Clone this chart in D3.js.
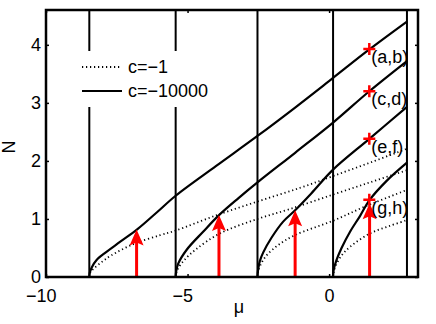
<!DOCTYPE html>
<html>
<head>
<meta charset="utf-8">
<script src="https://cdn.jsdelivr.net/npm/d3@7"></script>
<style>
  body { margin: 0; background: #fff; }
  svg { display: block; font-family: "Liberation Sans", Arial, Helvetica, sans-serif; }
</style>
</head>
<body>
<div id="chart"></div>
<script>
var width = 436,
  height = 324;

// thresholds where each branch starts (vertical lines)
const thresholds = [-8.47, -5.42, -2.53, 0.14, 2.75];

// c = -10000 branches, [mu, N]
const solid1 = [[-8.47, 0], [-8.45, 0.08], [-8.38, 0.17], [-8.22, 0.29], [-7.9, 0.42], [-7.4, 0.60], [-6.78, 0.82],
  [-6.07, 1.12], [-5.42, 1.40], [-4.0, 1.91], [-2.53, 2.43], [-1.2, 2.92], [0.14, 3.43], [1.42, 3.92], [2.75, 4.40]];
const solid2 = [[-5.42, 0], [-5.40, 0.10], [-5.33, 0.23], [-5.03, 0.47], [-4.45, 0.78], [-3.88, 1.07],
  [-3.2, 1.36], [-2.53, 1.63], [-1.2, 2.14], [0.14, 2.66], [1.42, 3.20], [2.75, 3.72]];
const solid3 = [[-2.53, 0], [-2.51, 0.12], [-2.45, 0.27], [-2.33, 0.42], [-2.03, 0.68], [-1.63, 0.95],
  [-1.20, 1.15], [-0.63, 1.44], [0.14, 1.85], [1.42, 2.38], [2.75, 2.93]];
const solid4 = [[0.14, 0], [0.16, 0.12], [0.26, 0.29], [0.44, 0.50], [0.74, 0.78], [1.09, 1.05],
  [1.42, 1.32], [2.04, 1.66], [2.75, 1.97]];

// c = -1 branches
const dot1 = [[-8.47, 0], [-8.43, 0.08], [-8.30, 0.15], [-8.0, 0.27], [-7.7, 0.37], [-6.9, 0.57], [-5.97, 0.72],
  [-5.42, 0.80], [-4.0, 1.06], [-2.53, 1.30], [-1.0, 1.54], [0.2, 1.75], [1.5, 1.98], [2.75, 2.21]];
const dot2 = [[-5.42, 0], [-5.39, 0.08], [-5.32, 0.16], [-5.12, 0.29], [-4.72, 0.47], [-3.86, 0.75],
  [-2.53, 1.0], [-1.39, 1.17], [0.14, 1.42], [1.5, 1.64], [2.75, 1.84]];
const dot3 = [[-2.53, 0], [-2.50, 0.10], [-2.43, 0.20], [-2.23, 0.36], [-1.80, 0.55], [-1.21, 0.72],
  [0.14, 0.97], [1.3, 1.22], [2.75, 1.50]];
const dot4 = [[0.14, 0], [0.17, 0.10], [0.24, 0.20], [0.44, 0.37], [0.74, 0.52], [1.44, 0.75],
  [2.14, 0.88], [2.75, 0.98]];

// red arrows (mu, N at tip)
const arrowMu = [-6.80, -3.89, -1.20, 1.43];
const arrowN = [0.82, 1.07, 1.15, 1.27];

// marked points
const markMu = [1.42, 1.42, 1.42, 1.42];
const markN = [3.93, 3.20, 2.38, 1.33];
const markLabels = ['(a,b)', '(c,d)', '(e,f)', '(g,h)'];

const legendKeys = ['c=\u22121', 'c=\u221210000'];
const xTicks = [-10, -5, 0];
const yTicks = [0, 1, 2, 3, 4];

const red = '#ff0000';

var x = d3.scaleLinear().domain([-10, 3.14]).range([46, 418]);
var y = d3.scaleLinear().domain([0, 4.6]).range([277, 10]);

var svg = d3.select('#chart')
  .append('svg')
  .attr('width', width)
  .attr('height', height);

var line = d3.line()
  .x(d => x(d[0]))
  .y(d => y(d[1]))
  .curve(d3.curveCatmullRom.alpha(0.5));

// vertical lines
svg.append('g')
  .selectAll('line')
  .data(thresholds)
  .join('line')
  .attr('x1', d => x(d))
  .attr('x2', d => x(d))
  .attr('y1', y(0))
  .attr('y2', y(4.6))
  .attr('stroke', '#000')
  .attr('stroke-width', 2);

// dotted curves
svg.append('g')
  .selectAll('path')
  .data([dot1, dot2, dot3, dot4])
  .join('path')
  .attr('d', line)
  .attr('fill', 'none')
  .attr('stroke', '#000')
  .attr('stroke-width', 1.8)
  .attr('stroke-dasharray', '1.2,2.8');

// solid curves
svg.append('g')
  .selectAll('path')
  .data([solid1, solid2, solid3, solid4])
  .join('path')
  .attr('d', line)
  .attr('fill', 'none')
  .attr('stroke', '#000')
  .attr('stroke-width', 2.2);

// arrows
var arrows = svg.append('g');
arrowMu.forEach(function(m, i) {
  let ax = x(m), ay = y(arrowN[i]);
  arrows.append('line')
    .attr('x1', ax).attr('x2', ax)
    .attr('y1', y(0)).attr('y2', ay + 10)
    .attr('stroke', red)
    .attr('stroke-width', 3);
  arrows.append('path')
    .attr('d', 'M' + ax + ',' + ay + 'L' + (ax + 7) + ',' + (ay + 16) + 'L' + ax + ',' + (ay + 13) +
      'L' + (ax - 7) + ',' + (ay + 16) + 'Z')
    .attr('fill', red);
});

// crosses + labels
var marks = svg.append('g');
markMu.forEach(function(m, i) {
  let mx = x(m), my = y(markN[i]);
  marks.append('path')
    .attr('d', 'M' + (mx - 6) + ',' + my + 'H' + (mx + 6) + 'M' + mx + ',' + (my - 6) + 'V' + (my + 6))
    .attr('stroke', red)
    .attr('stroke-width', 2.5);
  marks.append('text')
    .attr('x', mx + 2)
    .attr('y', my + 14)
    .attr('font-size', 18)
    .text(markLabels[i]);
});

// legend with white background
var legend = svg.append('g');
legend.append('rect')
  .attr('x', 74).attr('y', 51)
  .attr('width', 144).attr('height', 56)
  .attr('fill', '#fff');
legend.selectAll('line')
  .data(legendKeys)
  .join('line')
  .attr('x1', 82).attr('x2', 122)
  .attr('y1', (d, i) => 67 + i * 24)
  .attr('y2', (d, i) => 67 + i * 24)
  .attr('stroke', '#000')
  .attr('stroke-width', (d, i) => i ? 2.2 : 1.8)
  .attr('stroke-dasharray', (d, i) => i ? null : '1.2,2.8');
legend.selectAll('text')
  .data(legendKeys)
  .join('text')
  .attr('x', 128)
  .attr('y', (d, i) => 67 + i * 24)
  .attr('dy', '0.35em')
  .attr('font-size', 18)
  .text(d => d);

// axes, ticks inside
var xAxis = svg.append('g')
  .attr('transform', 'translate(0,' + y(0) + ')')
  .call(d3.axisBottom(x).tickValues(xTicks).tickSize(-3).tickPadding(12).tickFormat(d3.format('d')));
xAxis.selectAll('text')
  .attr('font-size', 18)
  .attr('fill', '#000')
  .attr('text-anchor', 'end')
  .attr('x', d => String(Math.abs(d)).length * 5);

var yAxis = svg.append('g')
  .attr('transform', 'translate(' + x(-10) + ',0)')
  .call(d3.axisLeft(y).tickValues(yTicks).tickSize(-3).tickPadding(5).tickFormat(d3.format('d')));
yAxis.selectAll('text')
  .attr('font-size', 18)
  .attr('fill', '#000');

svg.append('g')
  .attr('transform', 'translate(0,' + y(4.6) + ')')
  .call(d3.axisTop(x).tickValues(xTicks).tickSize(-3).tickFormat(''));
svg.append('g')
  .attr('transform', 'translate(' + x(3.14) + ',0)')
  .call(d3.axisRight(y).tickValues(yTicks).tickSize(-3).tickFormat(''));

svg.selectAll('.domain').remove();
svg.selectAll('.tick line').attr('stroke', '#000').attr('stroke-width', 1.5);

// box
svg.append('rect')
  .attr('x', x(-10)).attr('y', y(4.6))
  .attr('width', x(3.14) - x(-10))
  .attr('height', y(0) - y(4.6))
  .attr('fill', 'none')
  .attr('stroke', '#000')
  .attr('stroke-width', 2.5);

// axis labels
svg.append('text')
  .attr('x', 239)
  .attr('y', 313)
  .attr('text-anchor', 'middle')
  .attr('font-size', 18)
  .text('\u03bc');

svg.append('text')
  .attr('transform', 'translate(15,147) rotate(-90)')
  .attr('text-anchor', 'middle')
  .attr('font-size', 18)
  .text('N');
</script>
</body>
</html>
